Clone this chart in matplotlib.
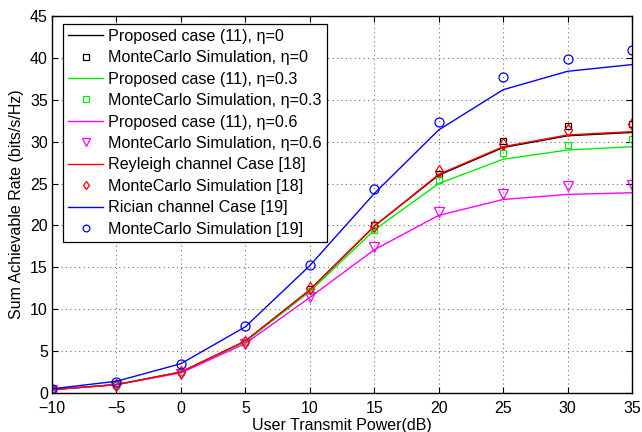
import matplotlib
matplotlib.use('Agg')
import matplotlib.pyplot as plt

plt.rcParams['font.family'] = ['Liberation Sans', 'DejaVu Sans']

# 发射功率 (dB)
power_db = [-10, -5, 0, 5, 10, 15, 20, 25, 30, 35]

# 理论曲线 + 蒙特卡洛仿真点
prop_eta0 = [0.4, 1.0, 2.5, 6.2, 12.3, 19.9, 26.0, 29.3, 30.7, 31.1]
mc_eta0 = [0.4, 1.0, 2.5, 6.1, 12.4, 20.0, 26.2, 30.1, 31.9, 32.1]
prop_eta03 = [0.4, 1.0, 2.5, 6.1, 12.1, 19.45, 25.0, 27.9, 29.0, 29.4]
mc_eta03 = [0.4, 1.0, 2.5, 6.1, 12.2, 19.4, 25.4, 28.6, 29.6, 30.3]
prop_eta06 = [0.4, 1.0, 2.4, 5.9, 11.4, 17.1, 21.2, 23.1, 23.7, 23.9]
mc_eta06 = [0.3, 0.8, 2.3, 5.8, 11.5, 17.4, 21.6, 23.7, 24.7, 24.8]
rayleigh = [0.4, 1.0, 2.5, 6.2, 12.3, 19.9, 26.1, 29.4, 30.8, 31.2]
mc_rayleigh = [0.3, 0.9, 2.5, 6.1, 12.5, 19.9, 26.5, 29.7, 31.4, 32.1]
rician = [0.5, 1.4, 3.5, 7.9, 15.2, 23.8, 31.4, 36.2, 38.4, 39.2]
mc_rician = [0.5, 1.3, 3.5, 8.0, 15.3, 24.3, 32.4, 37.7, 39.9, 40.9]

fig = plt.figure(figsize=(6.42, 4.32), dpi=100)
ax = fig.add_axes([52 / 642, 1 - 393 / 432, 580 / 642, 377 / 432])

lw = 1.0
ax.plot(power_db, prop_eta0, color='black', lw=lw, label='Proposed case (11), η=0')
ax.plot(power_db, mc_eta0, 's', color='black', mfc='none', ms=5, mew=0.9,
        label='MonteCarlo Simulation, η=0')
ax.plot(power_db, prop_eta03, color='#00ee00', lw=lw, label='Proposed case (11), η=0.3')
ax.plot(power_db, mc_eta03, 's', color='#00ee00', mfc='none', ms=5, mew=0.9,
        label='MonteCarlo Simulation, η=0.3')
ax.plot(power_db, prop_eta06, color='magenta', lw=lw, label='Proposed case (11), η=0.6')
ax.plot(power_db, mc_eta06, 'v', color='magenta', mfc='none', ms=7, mew=0.9,
        label='MonteCarlo Simulation, η=0.6')
ax.plot(power_db, rayleigh, color='red', lw=lw, label='Reyleigh channel Case [18]')
ax.plot(power_db, mc_rayleigh, 'd', color='red', mfc='none', ms=6, mew=0.9,
        label='MonteCarlo Simulation [18]')
ax.plot(power_db, rician, color='blue', lw=lw, label='Rician channel Case [19]')
ax.plot(power_db, mc_rician, 'o', color='blue', mfc='none', ms=6.5, mew=0.9,
        label='MonteCarlo Simulation [19]')

ax.set_xlim(-10, 35)
ax.set_ylim(0, 45)
ax.set_xticks(range(-10, 36, 5))
ax.set_yticks(range(0, 46, 5))
ax.set_xticklabels([str(v).replace('-', '\u2212') for v in range(-10, 36, 5)])
ax.grid(True, ls=(0, (1, 3)), color='#707070', lw=0.8)
ax.tick_params(direction='in', top=True, right=True, labelsize=11.5, length=4, pad=3)
ax.tick_params(axis='x', pad=6)
for sp in ax.spines.values():
    sp.set_linewidth(1.0)

ax.set_xlabel('User Transmit Power(dB)', fontsize=11.5, labelpad=1)
ax.set_ylabel('Sum Achievable Rate (bits/s/Hz)', fontsize=11.5, labelpad=4)

leg = ax.legend(loc='upper left', bbox_to_anchor=(0.019, 0.979), fontsize=11.6,
                frameon=True, fancybox=False, edgecolor='black', framealpha=1,
                borderpad=0.3, labelspacing=0.4, handlelength=2.2,
                handletextpad=0.3, borderaxespad=0, markerscale=0.75)
leg.get_frame().set_linewidth(0.9)

fig.savefig('out.png', dpi=100)
